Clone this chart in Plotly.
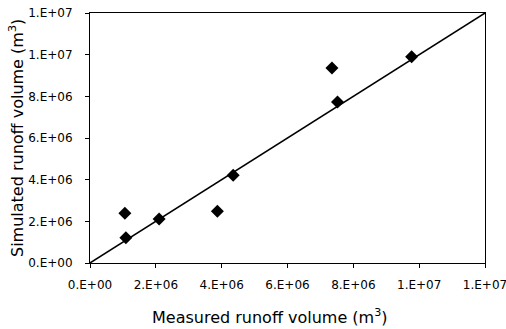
import plotly.graph_objects as go

measured = [1.06e6, 1.09e6, 2.10e6, 3.87e6, 4.35e6, 7.35e6, 7.52e6, 9.77e6]
simulated = [2.39e6, 1.21e6, 2.11e6, 2.48e6, 4.21e6, 9.36e6, 7.73e6, 9.90e6]
line_x = [0, 1.2e7]
line_y = [0, 1.2e7]
tick_vals = [0, 2e6, 4e6, 6e6, 8e6, 1e7, 1.2e7]
tick_text = ["0.E+00", "2.E+06", "4.E+06", "6.E+06", "8.E+06", "1.E+07", "1.E+07"]

fig = go.Figure()
fig.add_trace(go.Scatter(x=line_x, y=line_y, mode="lines",
                         line=dict(color="black", width=1.5), showlegend=False))
fig.add_trace(go.Scatter(x=measured, y=simulated, mode="markers",
                         marker=dict(symbol="diamond", size=10, color="black"),
                         showlegend=False))

font = "DejaVu Sans, sans-serif"
axis_common = dict(range=[0, 1.2e7], tickvals=tick_vals, ticktext=tick_text,
                   showgrid=False, zeroline=False, showline=True, linecolor="black",
                   linewidth=1, mirror=True, ticks="outside", ticklen=4,
                   tickcolor="black", tickfont=dict(family=font, size=12, color="black"),
                   ticklabeloverflow="allow", automargin=False)

fig.update_layout(
    width=506, height=329,
    margin=dict(l=90, r=21, t=13, b=66),
    plot_bgcolor="white", paper_bgcolor="white",
    xaxis=dict(**axis_common, ticklabelstandoff=7),
    yaxis=dict(**axis_common, ticklabelstandoff=10),
    annotations=[
        dict(text="Measured runoff volume (m<sup>3</sup>)", xref="paper", yref="paper",
             x=(270 - 90) / 395, y=-(316 - 263) / 250, showarrow=False,
             xanchor="center", yanchor="middle",
             font=dict(family=font, size=16, color="black")),
        dict(text="Simulated runoff volume (m<sup>3</sup>)", xref="paper", yref="paper",
             x=-(90 - 16) / 395, y=0.5, showarrow=False, textangle=-90,
             xanchor="center", yanchor="middle",
             font=dict(family=font, size=16, color="black")),
    ],
)

fig.write_html("out.html")
